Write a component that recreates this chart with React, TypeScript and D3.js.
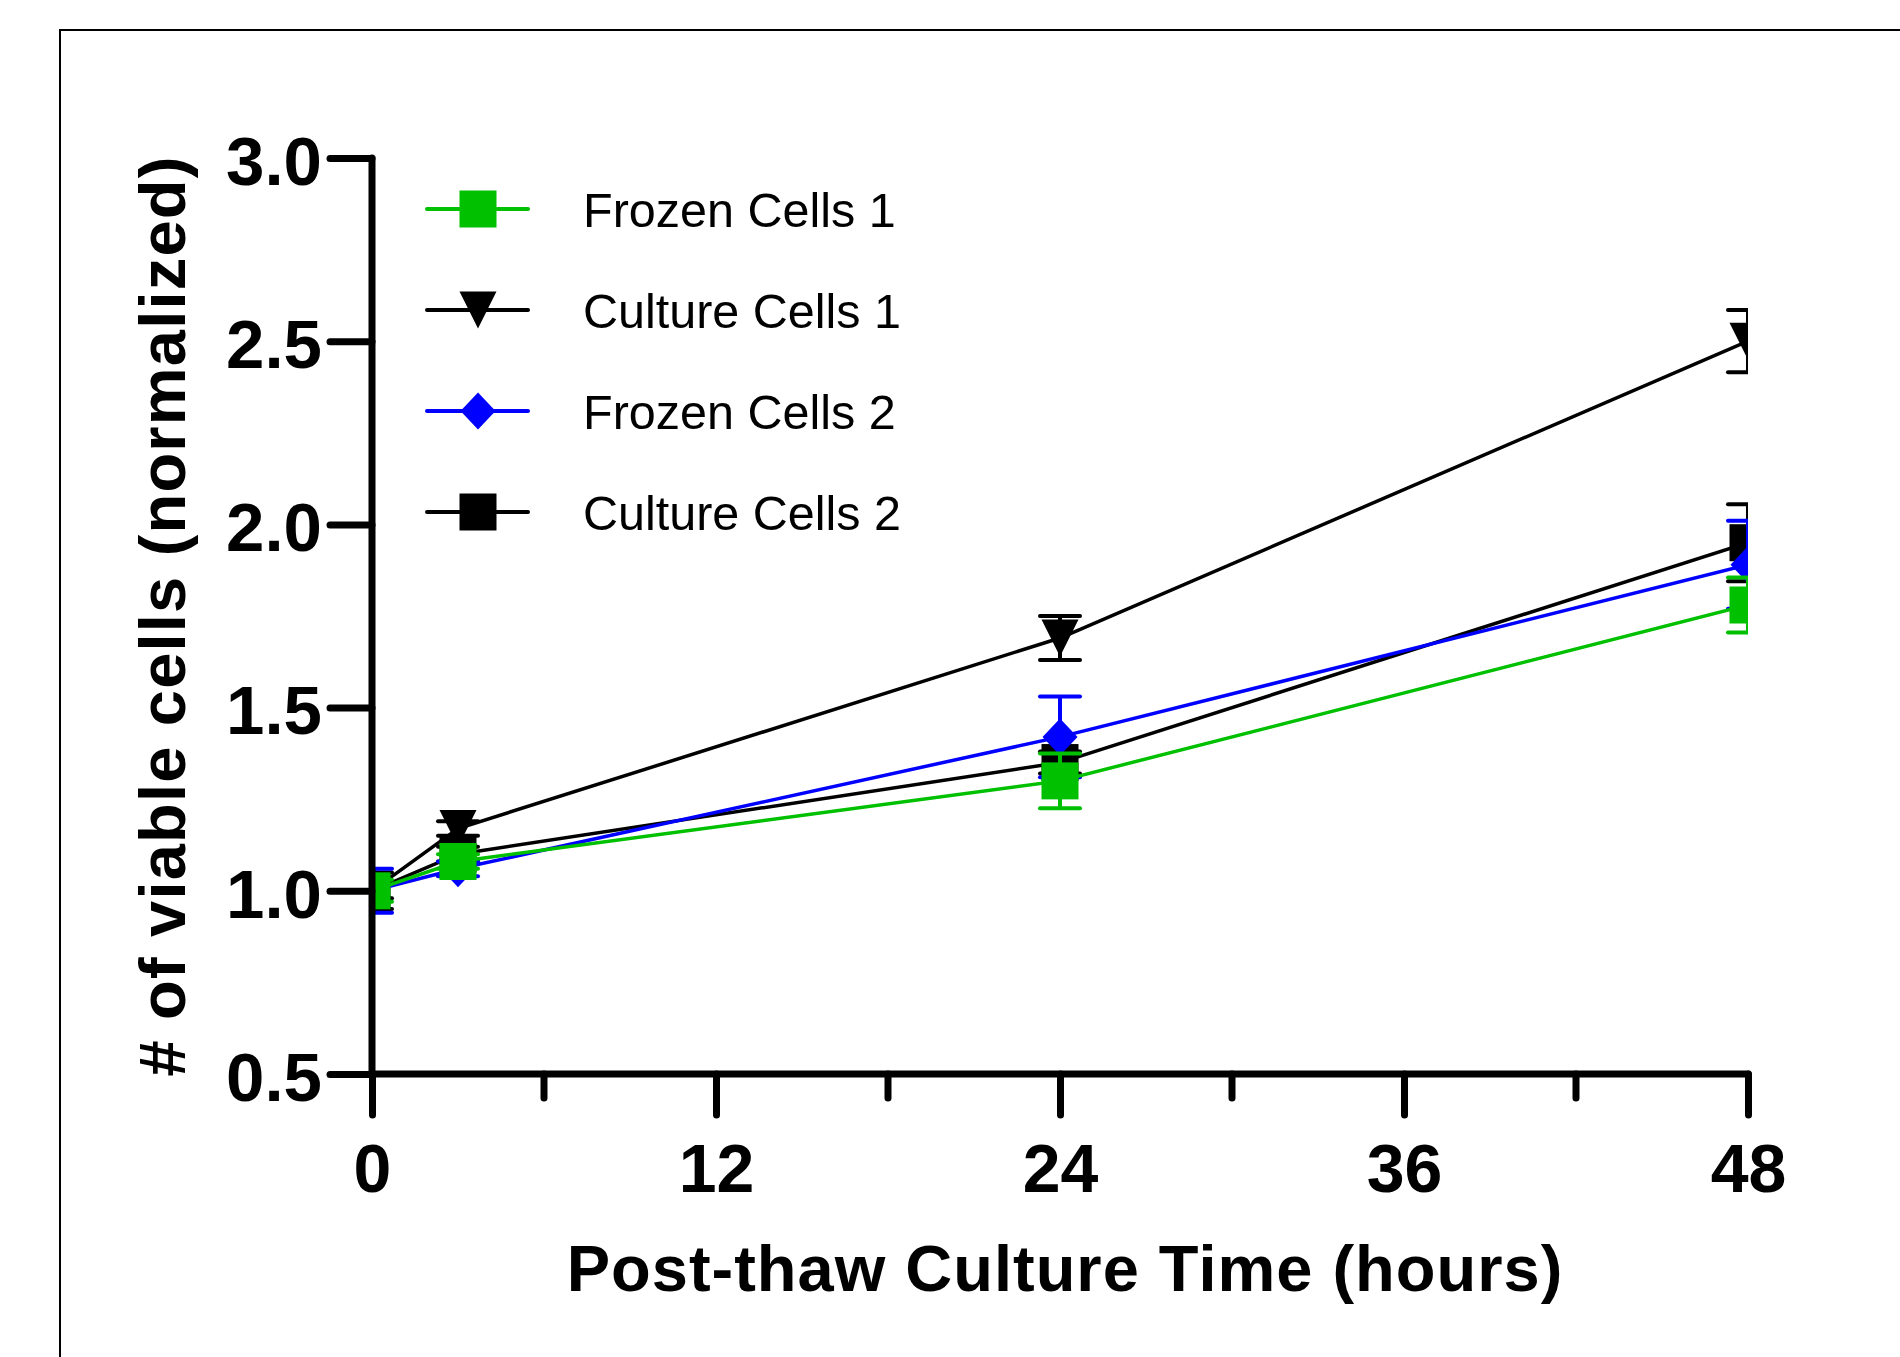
import { useEffect, useRef } from "react";
import * as d3 from "d3";

// sampling times (hours)
const times = [0, 3, 24, 48];

const seriesNames = ["Frozen Cells 1", "Culture Cells 1", "Frozen Cells 2", "Culture Cells 2"];
const seriesColors = ["#00c000", "#000000", "#0000ff", "#000000"];
const seriesShapes = ["square", "triangleDown", "diamond", "square"];

const frozen1 = [1.0, 1.08, 1.30, 1.78];
const frozen1Err = [0.03, 0.02, 0.075, 0.075];
const culture1 = [1.0, 1.17, 1.69, 2.50];
const culture1Err = [0.02, 0.02, 0.06, 0.085];
const frozen2 = [1.0, 1.06, 1.42, 1.89];
const frozen2Err = [0.06, 0.02, 0.11, 0.12];
const culture2 = [1.0, 1.10, 1.35, 1.95];
const culture2Err = [0.05, 0.02, 0.03, 0.105];

const seriesValues = [frozen1, culture1, frozen2, culture2];
const seriesErrors = [frozen1Err, culture1Err, frozen2Err, culture2Err];

const xMajorTicks = [0, 12, 24, 36, 48];
const xMinorTicks = [6, 18, 30, 42];
const yTicks = [0.5, 1.0, 1.5, 2.0, 2.5, 3.0];

const FONT = "'Liberation Sans', Arial, Helvetica, sans-serif";

const drawMarker = (g, shape, cx, cy, color) => {
    const s = 37;
    if (shape === "square") {
        g.append("rect")
            .attr("x", cx - s / 2)
            .attr("y", cy - s / 2)
            .attr("width", s)
            .attr("height", s)
            .attr("fill", color);
    } else if (shape === "triangleDown") {
        g.append("path")
            .attr("d", `M${cx - s / 2},${cy - s / 2} L${cx + s / 2},${cy - s / 2} L${cx},${cy + s / 2} Z`)
            .attr("fill", color);
    } else {
        g.append("path")
            .attr("d", `M${cx},${cy - s / 2} L${cx + 17.5},${cy} L${cx},${cy + s / 2} L${cx - 17.5},${cy} Z`)
            .attr("fill", color);
    }
};

const Chart = () => {
    const ref = useRef(null);

    useEffect(() => {
        const svg = d3.select(ref.current);
        svg.selectAll("*").remove();

        const left = 372, right = 1748, top = 158, bottom = 1074;

        const x = d3.scaleLinear().domain([0, 48]).range([left, right]);
        const y = d3.scaleLinear().domain([0.5, 3.0]).range([bottom, top]);

        // outer frame
        svg.append("rect")
            .attr("x", 60).attr("y", 30)
            .attr("width", 2000).attr("height", 2000)
            .attr("fill", "none")
            .attr("stroke", "#000")
            .attr("stroke-width", 2);

        svg.append("defs").append("clipPath")
            .attr("id", "plot-clip")
            .append("rect")
            .attr("x", left).attr("y", 0)
            .attr("width", right - left).attr("height", 1357);

        const plot = svg.append("g").attr("clip-path", "url(#plot-clip)");

        const order = [3, 2, 1, 0];
        order.forEach((si) => {
            const vals = seriesValues[si];
            const errs = seriesErrors[si];
            const color = seriesColors[si];
            const g = plot.append("g");

            const line = d3.line()
                .x((d, i) => x(times[i]))
                .y((d) => y(d));
            g.append("path")
                .datum(vals)
                .attr("d", line)
                .attr("fill", "none")
                .attr("stroke", color)
                .attr("stroke-width", 3.5);

            vals.forEach((v, i) => {
                const cx = x(times[i]);
                const y1 = y(v + errs[i]);
                const y0 = y(v - errs[i]);
                g.append("line")
                    .attr("x1", cx).attr("x2", cx)
                    .attr("y1", y1).attr("y2", y0)
                    .attr("stroke", color).attr("stroke-width", 4);
                [y1, y0].forEach((cy) => {
                    g.append("line")
                        .attr("x1", cx - 20).attr("x2", cx + 20)
                        .attr("y1", cy).attr("y2", cy)
                        .attr("stroke", color).attr("stroke-width", 4)
                        .attr("stroke-linecap", "round");
                });
            });

            vals.forEach((v, i) => {
                drawMarker(g, seriesShapes[si], x(times[i]), y(v), color);
            });
        });

        // axes
        const yAxis = svg.append("g")
            .attr("transform", `translate(${left},0)`)
            .call(d3.axisLeft(y).tickValues(yTicks).tickFormat(d3.format(".1f")).tickSize(42).tickPadding(8).tickSizeOuter(0));
        yAxis.select(".domain").remove();
        yAxis.selectAll("line").attr("stroke", "#000").attr("stroke-width", 7).attr("stroke-linecap", "round");
        yAxis.selectAll("text")
            .attr("dy", "0.38em")
            .attr("font-family", FONT)
            .attr("font-weight", "bold")
            .attr("font-size", 69)
            .attr("fill", "#000");

        const xAxis = svg.append("g")
            .attr("transform", `translate(0,${bottom})`)
            .call(d3.axisBottom(x).tickValues(xMajorTicks).tickSize(41).tickPadding(29).tickSizeOuter(0));
        xAxis.select(".domain").remove();
        xAxis.selectAll("line").attr("stroke", "#000").attr("stroke-width", 7).attr("stroke-linecap", "round");
        xAxis.selectAll("text")
            .attr("font-family", FONT)
            .attr("font-weight", "bold")
            .attr("font-size", 68)
            .attr("fill", "#000");

        svg.append("g")
            .selectAll("line")
            .data(xMinorTicks)
            .enter()
            .append("line")
            .attr("x1", (d) => x(d)).attr("x2", (d) => x(d))
            .attr("y1", bottom).attr("y2", bottom + 24)
            .attr("stroke", "#000").attr("stroke-width", 7).attr("stroke-linecap", "round");

        svg.append("line")
            .attr("x1", left).attr("x2", left)
            .attr("y1", top).attr("y2", bottom)
            .attr("stroke", "#000").attr("stroke-width", 7).attr("stroke-linecap", "round");
        svg.append("line")
            .attr("x1", left).attr("x2", right)
            .attr("y1", bottom).attr("y2", bottom)
            .attr("stroke", "#000").attr("stroke-width", 7).attr("stroke-linecap", "round");

        // axis titles
        svg.append("text")
            .attr("x", (left + right) / 2 + 5)
            .attr("y", 1291)
            .attr("text-anchor", "middle")
            .attr("font-family", FONT)
            .attr("font-weight", "bold")
            .attr("font-size", 65)
            .attr("letter-spacing", 1)
            .text("Post-thaw Culture Time (hours)");

        svg.append("text")
            .attr("transform", `translate(185, ${(top + bottom) / 2}) rotate(-90)`)
            .attr("text-anchor", "middle")
            .attr("font-family", FONT)
            .attr("font-weight", "bold")
            .attr("font-size", 65)
            .attr("letter-spacing", 1.2)
            .text("# of viable cells (normalized)");

        // legend
        const legend = svg.append("g");
        seriesNames.forEach((name, i) => {
            const ly = 209 + i * 101;
            const color = seriesColors[i];
            legend.append("line")
                .attr("x1", 427).attr("x2", 528)
                .attr("y1", ly).attr("y2", ly)
                .attr("stroke", color).attr("stroke-width", 4)
                .attr("stroke-linecap", "round");
            drawMarker(legend, seriesShapes[i], 478, ly, color);
            legend.append("text")
                .attr("x", 583)
                .attr("y", ly + 18)
                .attr("font-family", FONT)
                .attr("font-size", 48.5)
                .attr("fill", "#000")
                .text(name);
        });
    }, []);

    return <svg ref={ref} width={1900} height={1357} style={{ position: "absolute", left: 0, top: 0, background: "#fff" }} />;
};

export default function App() {
    return <Chart />;
}
